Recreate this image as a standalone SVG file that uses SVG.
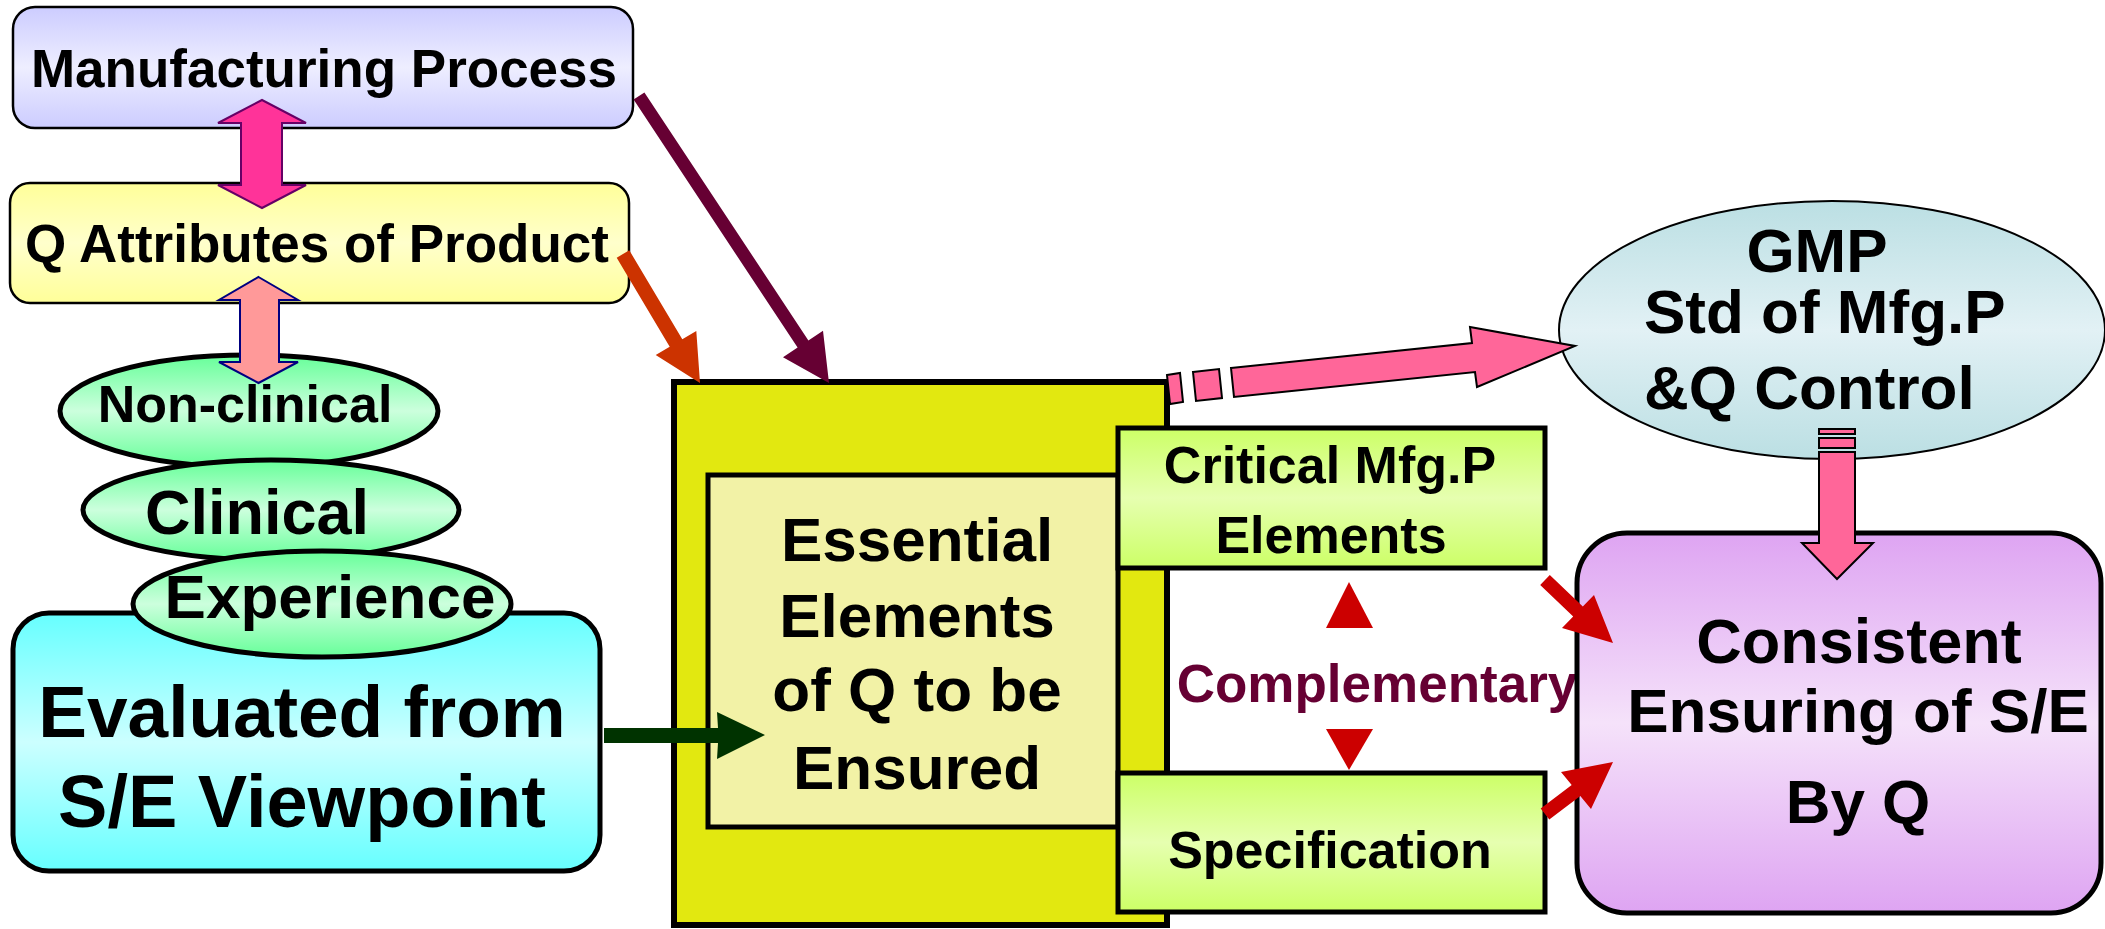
<svg xmlns="http://www.w3.org/2000/svg" width="2105" height="929" viewBox="0 0 2105 929">
<defs>
<linearGradient id="gMfg" x1="0" y1="0" x2="0" y2="1"><stop offset="0" stop-color="#ccccff"/><stop offset="0.5" stop-color="#eeeeff"/><stop offset="1" stop-color="#ccccff"/></linearGradient>
<linearGradient id="gQ" x1="0" y1="0" x2="0" y2="1"><stop offset="0" stop-color="#ffff99"/><stop offset="0.5" stop-color="#ffffcc"/><stop offset="1" stop-color="#ffff99"/></linearGradient>
<linearGradient id="gGreen" x1="0" y1="0" x2="0" y2="1"><stop offset="0" stop-color="#66ff99"/><stop offset="0.5" stop-color="#ccffdd"/><stop offset="1" stop-color="#66ff99"/></linearGradient>
<linearGradient id="gCyan" x1="0" y1="0" x2="0" y2="1"><stop offset="0" stop-color="#66ffff"/><stop offset="0.5" stop-color="#ccffff"/><stop offset="1" stop-color="#66ffff"/></linearGradient>
<linearGradient id="gLime" x1="0" y1="0" x2="0" y2="1"><stop offset="0" stop-color="#ccff66"/><stop offset="0.5" stop-color="#e6ffb0"/><stop offset="1" stop-color="#ccff66"/></linearGradient>
<linearGradient id="gPurple" x1="0" y1="0" x2="0" y2="1"><stop offset="0" stop-color="#dea4f2"/><stop offset="0.5" stop-color="#f5e2fa"/><stop offset="1" stop-color="#dea4f2"/></linearGradient>
<linearGradient id="gBlue" x1="0" y1="0" x2="0" y2="1"><stop offset="0" stop-color="#bbdfe3"/><stop offset="0.5" stop-color="#e2f1f5"/><stop offset="1" stop-color="#bbdfe3"/></linearGradient>
</defs>
<style>
text{font-family:"Liberation Sans",Arial,sans-serif;font-weight:bold;fill:#000;text-anchor:middle}
.thin{stroke:#000;stroke-width:2.5}
.thick{stroke:#000;stroke-width:5}
.pink{fill:#ff6699;stroke:#000;stroke-width:2}
</style>
<rect width="2105" height="929" fill="#fff"/>

<g id="mfg">
<rect x="13" y="7" width="620" height="121" rx="22" fill="url(#gMfg)" class="thin"/>
<text x="324" y="87" font-size="53">Manufacturing Process</text>
</g>
<g id="qattr">
<rect x="10" y="183" width="619" height="120" rx="20" fill="url(#gQ)" class="thin"/>
<text x="317" y="262" font-size="53">Q Attributes of Product</text>
</g>
<g id="evaluated">
<rect x="13" y="613" width="587" height="258" rx="36" fill="url(#gCyan)" class="thick"/>
<text x="302" y="737" font-size="73">Evaluated from</text>
<text x="302" y="827" font-size="74">S/E Viewpoint</text>
</g>
<g id="nonclinical">
<ellipse cx="249" cy="411" rx="189" ry="56" fill="url(#gGreen)" class="thick"/>
<text x="245" y="422" font-size="52">Non-clinical</text>
</g>
<g id="clinical">
<ellipse cx="271" cy="510" rx="188" ry="50" fill="url(#gGreen)" class="thick"/>
<text x="257" y="534" font-size="63">Clinical</text>
</g>
<g id="experience">
<ellipse cx="322" cy="604" rx="189" ry="53" fill="url(#gGreen)" class="thick"/>
<text x="330" y="618" font-size="62">Experience</text>
</g>

<g id="essential">
<rect x="674" y="382" width="493" height="543" fill="#e2e810" stroke="#000" stroke-width="6"/>
<rect x="708" y="475" width="410" height="352" fill="#f2f2a6" class="thick"/>
<text x="917" y="561" font-size="62">Essential</text>
<text x="917" y="637" font-size="62">Elements</text>
<text x="917" y="711" font-size="62">of Q to be</text>
<text x="917" y="789" font-size="62">Ensured</text>
</g>
<g id="critical">
<rect x="1118" y="428" width="427" height="140" fill="url(#gLime)" class="thick"/>
<text x="1330" y="483" font-size="52">Critical Mfg.P</text>
<text x="1331" y="553" font-size="52">Elements</text>
</g>
<g id="spec">
<rect x="1118" y="773" width="427" height="139" fill="url(#gLime)" class="thick"/>
<text x="1330" y="868" font-size="52">Specification</text>
</g>
<g id="complementary">
<polygon points="1326,628 1349,582 1373,628" fill="#cc0000"/>
<polygon points="1326,729 1373,729 1349,770" fill="#cc0000"/>
<text x="1377" y="702" font-size="53" style="fill:#660033">Complementary</text>
</g>
<g id="gmp">
<ellipse cx="1832" cy="330" rx="273" ry="129" fill="url(#gBlue)" stroke="#000" stroke-width="2"/>
<text x="1817" y="272" font-size="62">GMP</text>
<text x="1644" y="333" font-size="62" style="text-anchor:start">Std of Mfg.P</text>
<text x="1644" y="409" font-size="62" style="text-anchor:start">&amp;Q Control</text>
</g>
<g id="consistent">
<rect x="1577" y="533" width="524" height="380" rx="50" fill="url(#gPurple)" class="thick"/>
<text x="1859" y="663" font-size="63">Consistent</text>
<text x="1858" y="732" font-size="62">Ensuring of S/E</text>
<text x="1858" y="823" font-size="62">By Q</text>
</g>

<g id="connectors">
<polygon points="262,100 306,123 282,123 282,185 306,185 262,208 218,185 241,185 241,123 218,123" fill="#ff3399" stroke="#660066" stroke-width="2"/>
<polygon points="258.5,277 298,300 279,300 279,362 298,362 258.5,383 219,362 240,362 240,300 219,300" fill="#ff9999" stroke="#000080" stroke-width="2"/>
<polygon points="644.4,92.4 808.4,340.4 823,330.8 829,383 783,357.2 797.6,347.6 633.6,99.6" fill="#660033"/>
<polygon points="629.3,250.3 682.3,339.3 696.3,330.9 700,383 655.7,355.1 669.7,346.7 616.7,257.7" fill="#cc3300"/>
<polygon points="604,728 718,728 717,712 765,735 717,759 718,743 604,743" fill="#003300"/>
<polygon points="1549.8,574.9 1582.8,606.4 1594,595 1613,643 1562,628 1573.2,616.6 1540.2,585.1" fill="#cc0000"/>
<polygon points="1540.7,808.5 1571.7,785 1561,772 1613,762 1591,809 1580.3,796 1549.3,819.5" fill="#cc0000"/>
<polygon points="1167,375 1180,373 1183,402 1170,404" class="pink"/>
<polygon points="1193,372 1219,369 1222,398 1196,401" class="pink"/>
<polygon points="1231,368 1472,343 1470,327 1575,346 1477,387 1475,372 1234,397" class="pink"/>
<rect x="1819" y="429" width="36" height="5" class="pink"/>
<rect x="1819" y="438" width="36" height="10" class="pink"/>
<polygon points="1819,452 1855,452 1855,543 1873,543 1837,579 1802,543 1819,543" class="pink"/>
</g>
</svg>
